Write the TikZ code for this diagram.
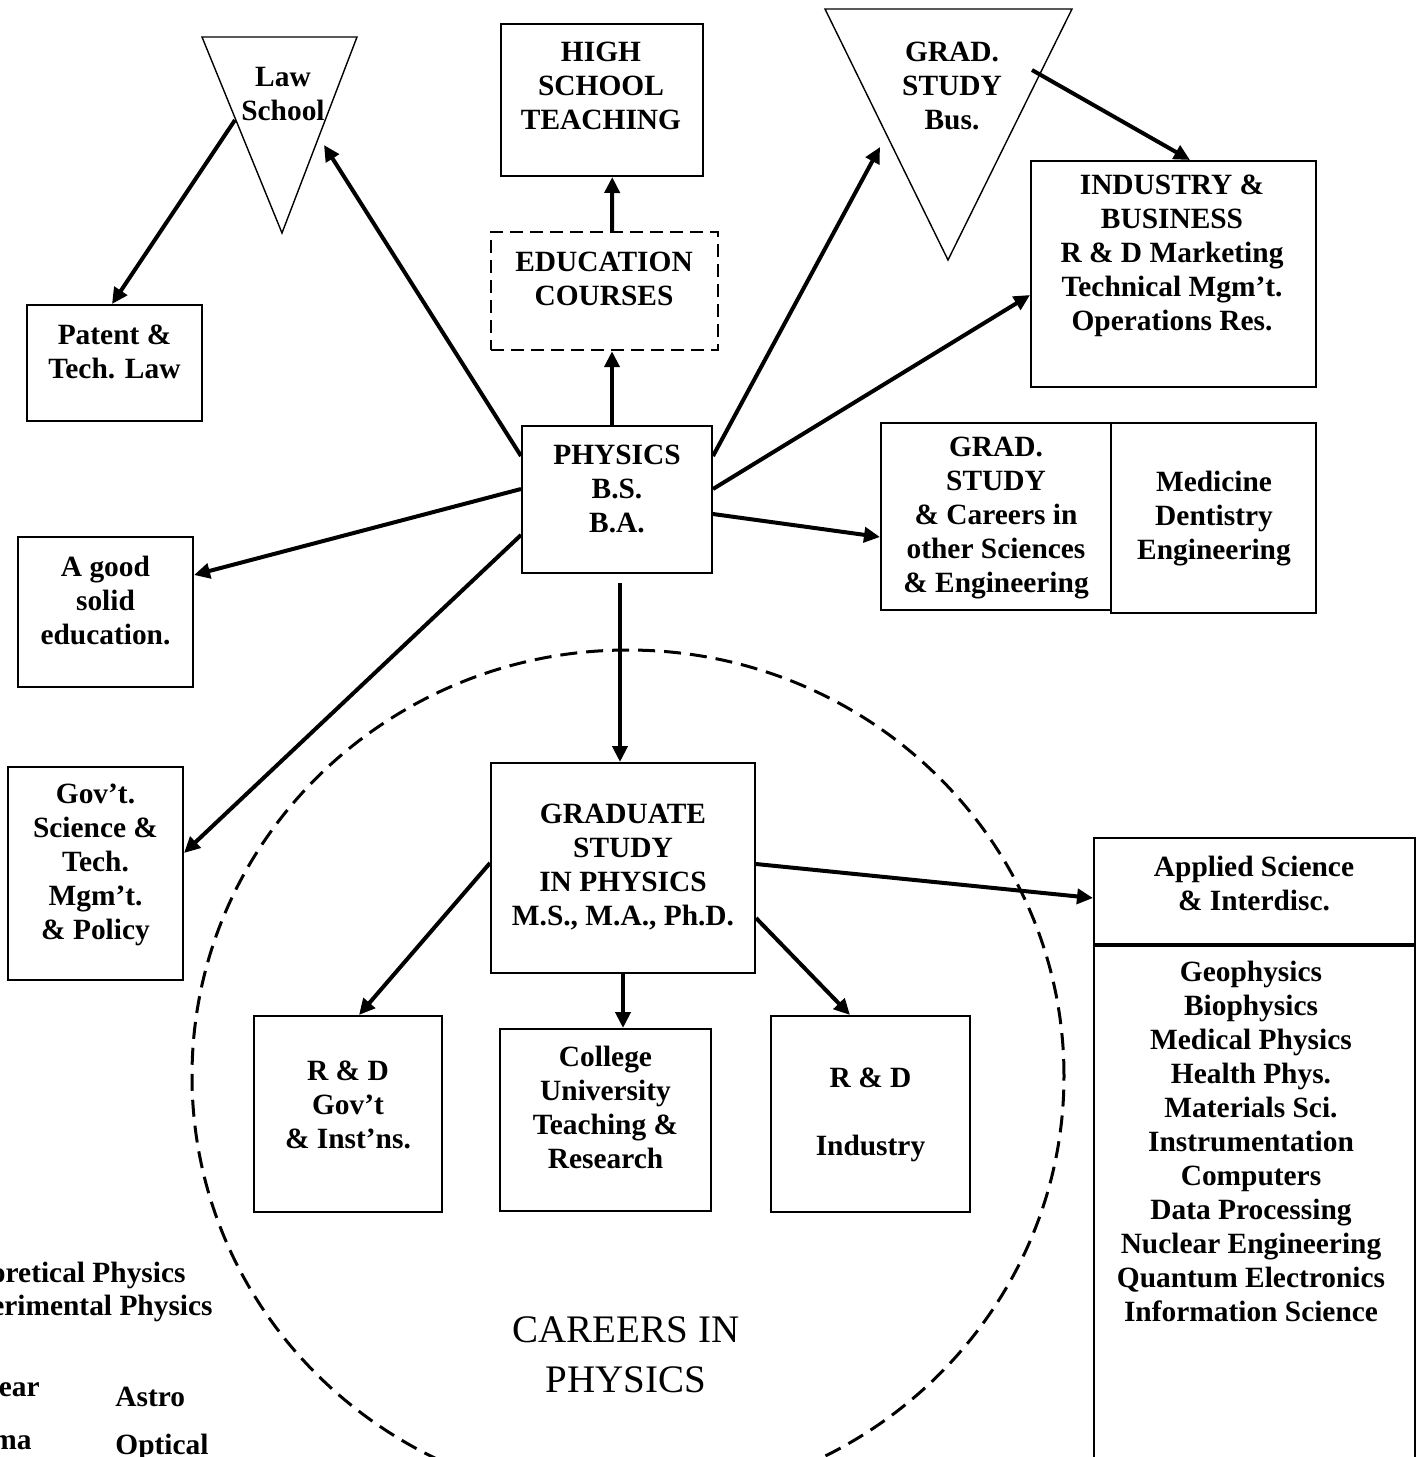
\documentclass[tikz,border=0pt]{standalone}
\usepackage{fontspec}
\setmainfont{Liberation Serif}
\usetikzlibrary{arrows.meta}

\begin{document}
\begin{tikzpicture}[x=0.5pt, y=-0.5pt,
  box/.style={draw, line width=1pt, inner sep=0pt},
  dbox/.style={box, line width=1.2pt, dash pattern=on 6.5pt off 3.5pt},
  txt/.style={align=center, inner sep=0pt, font=\bfseries\fontsize{14.7}{17}\selectfont},
  tri/.style={draw, line width=0.7pt},
  arr/.style={-{Triangle[length=8pt, width=7.5pt]}, line width=2pt},
  ln/.style={line width=2pt}
]
  \useasboundingbox (0,0) rectangle (1416,1457);

  % careers circle
  \draw[line width=1.5pt, dash pattern=on 8.5pt off 4.5pt] (628,1076) circle [x radius=218pt, y radius=213pt];
  \node[align=center, inner sep=0pt, font=\fontsize{19.5}{25}\selectfont] (car) at (626,1355) {CAREERS IN\\PHYSICS};

  % triangles
  \draw[tri] (202,37) -- (357,37) -- (282,233) -- cycle;
  \node[txt] (law) at (283,94) {Law\\School};
  \coordinate (lawin) at (324,145);
  \coordinate (lawout) at (235,120);
  \draw[tri] (825,9) -- (1072,9) -- (948,260) -- cycle;
  \node[txt] (bus) at (952,86) {GRAD.\\STUDY\\Bus.};
  \coordinate (busin) at (880,147);
  \coordinate (busout) at (1032,70);

  % boxes
  \node[box, minimum width=101.25pt, minimum height=76pt] (hs) at (601.75,100) {};
  \node[txt] (hs-t) at (601,86) {HIGH\\SCHOOL\\TEACHING};
  \node[dbox, minimum width=113.5pt, minimum height=59pt] (edu) at (604.5,291) {};
  \node[txt] (edu-t) at (604,279) {EDUCATION\\COURSES};
  \node[box, minimum width=95pt, minimum height=73.5pt] (phys) at (617,499.5) {};
  \node[txt] (phys-t) at (617,488.5) {PHYSICS\\B.S.\\B.A.};
  \node[box, minimum width=87.5pt, minimum height=58pt] (pat) at (114.5,363) {};
  \node[txt] (pat-t) at (114.5,352) {Patent \&\\Tech. Law};
  \node[box, minimum width=87.5pt, minimum height=75pt] (good) at (105.5,612) {};
  \node[txt] (good-t) at (105.5,600) {A good\\solid\\education.};
  \node[box, minimum width=87.5pt, minimum height=106.5pt] (gov) at (95.5,873.5) {};
  \node[txt] (gov-t) at (95.5,865) {Gov’t.\\Science \&\\Tech.\\Mgm’t.\\\& Policy};
  \node[box, minimum width=142.5pt, minimum height=113pt] (ind) at (1173.5,274) {};
  \node[txt] (ind-t) at (1172,255.5) {INDUSTRY \&\\BUSINESS\\R \& D Marketing\\Technical Mgm’t.\\Operations Res.};
  \node[box, minimum width=115pt, minimum height=93.5pt] (oth) at (996,516.5) {};
  \node[txt] (oth-t) at (996,518) {GRAD.\\STUDY\\\& Careers in\\other Sciences\\\& Engineering};
  \node[box, minimum width=102.5pt, minimum height=95pt] (med) at (1213.5,518) {};
  \node[txt] (med-t) at (1214,519) {Medicine\\Dentistry\\Engineering};
  \node[box, minimum width=132pt, minimum height=105pt] (grad) at (623,868) {};
  \node[txt] (grad-t) at (623,867.5) {GRADUATE\\STUDY\\IN PHYSICS\\M.S., M.A., Ph.D.};
  \node[box, minimum width=94pt, minimum height=98pt] (rdg) at (348,1114) {};
  \node[txt] (rdg-t) at (348,1105) {R \& D\\Gov’t\\\& Inst’ns.};
  \node[box, minimum width=105.5pt, minimum height=91pt] (col) at (605.5,1120) {};
  \node[txt] (col-t) at (605.5,1107.5) {College\\University\\Teaching \&\\Research};
  \node[box, minimum width=99.5pt, minimum height=98pt] (rdi) at (870.5,1114) {};
  \node[txt] (rdi-t) at (870.5,1115) {R \& D\\[17pt]Industry};
  \node[box, minimum width=160.25pt, minimum height=53pt] (app) at (1254.25,891) {};
  \node[txt] (app-t) at (1254,883) {Applied Science\\\& Interdisc.};
  \node[box, minimum width=160.25pt, minimum height=268pt, anchor=north] (appl) at (app.south) {};
  \node[txt] (appl-t) at (1251,1141) {Geophysics\\Biophysics\\Medical Physics\\Health Phys.\\Materials Sci.\\Instrumentation\\Computers\\Data Processing\\Nuclear Engineering\\Quantum Electronics\\Information Science};

  % cut off at the left edge
  \node[txt, anchor=east] (theo) at (186,1275) {oretical Physics};
  \node[txt, anchor=east] (expt) at (213,1308) {erimental Physics};
  \node[txt, anchor=east] (nucl) at (40,1390) {ear};
  \node[txt, anchor=east] (plas) at (32,1443) {ma};
  \node[txt, anchor=west] (astr) at (115,1397) {Astro};
  \node[txt, anchor=west] (optc) at (115,1447) {Optical};

  % connectors
  \draw[arr] ([yshift=21.75pt]phys.west) -- (lawin);
  \draw[arr] (lawout) -- ([xshift=-1.25pt]pat.north);
  \draw[arr] ([xshift=-2.5pt]phys.north) -- ([xshift=3.75pt]edu.south);
  \draw[arr] ([xshift=3.75pt]edu.north) -- ([xshift=5.25pt]hs.south);
  \draw[arr] ([yshift=21.75pt]phys.east) -- (busin);
  \draw[arr] (busout) -- ([xshift=8.25pt]ind.north);
  \draw[arr] ([yshift=5.25pt]phys.east) -- ([yshift=-10.5pt]ind.west);
  \draw[arr] ([yshift=-7.25pt]phys.east) -- ([yshift=-10.25pt]oth.west);
  \draw[arr] ([yshift=5.25pt]phys.west) -- ([yshift=18.5pt]good.east);
  \draw[arr] ([yshift=-17.75pt]phys.west) -- ([yshift=10.25pt]gov.east);
  \draw[arr] ([xshift=1.5pt, yshift=-4.5pt]phys.south) -- ([xshift=-1.5pt]grad.north);
  \draw[arr] ([yshift=2.5pt]grad.west) -- ([xshift=5.5pt]rdg.north);
  \draw[arr] (grad.south) -- ([xshift=8.75pt]col.north);
  \draw[arr] ([yshift=-25pt]grad.east) -- ([xshift=-10.25pt]rdi.north);
  \draw[arr] ([yshift=2pt]grad.east) -- ([yshift=-3.5pt]app.west);
\end{tikzpicture}
\end{document}
